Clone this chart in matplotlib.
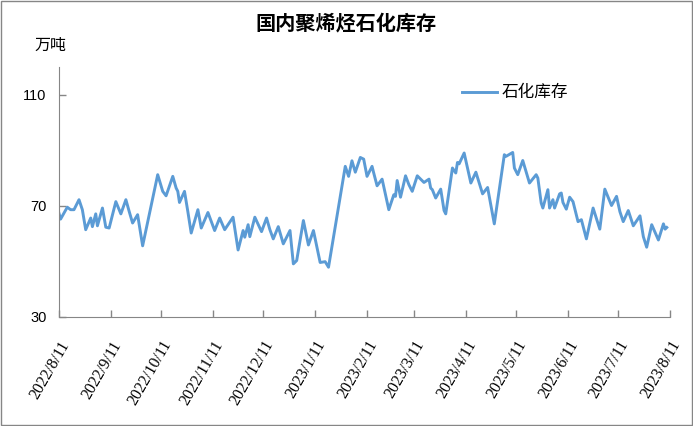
import numpy as np
import pandas as pd
import matplotlib
matplotlib.use("Agg")
import matplotlib.pyplot as plt
import matplotlib.dates as mdates
from matplotlib.patches import Rectangle
from matplotlib.transforms import ScaledTranslation

plt.rcParams['font.family'] = ['Noto Sans CJK SC', 'DejaVu Sans']

# values (万吨)
dates = [
    "2022-08-11", "2022-08-12", "2022-08-16", "2022-08-18", "2022-08-20", "2022-08-23",
    "2022-08-25", "2022-08-27", "2022-08-30", "2022-08-31", "2022-09-02", "2022-09-03",
    "2022-09-06", "2022-09-08", "2022-09-10", "2022-09-14", "2022-09-17", "2022-09-20",
    "2022-09-22", "2022-09-24", "2022-09-27", "2022-09-30", "2022-10-09", "2022-10-12",
    "2022-10-14", "2022-10-18", "2022-10-20", "2022-10-21", "2022-10-22", "2022-10-25",
    "2022-10-27", "2022-10-29", "2022-11-02", "2022-11-04", "2022-11-08", "2022-11-12",
    "2022-11-15", "2022-11-18", "2022-11-23", "2022-11-26", "2022-11-29", "2022-11-30",
    "2022-12-02", "2022-12-03", "2022-12-06", "2022-12-10", "2022-12-13", "2022-12-15",
    "2022-12-17", "2022-12-20", "2022-12-23", "2022-12-27", "2022-12-29", "2022-12-31",
    "2023-01-04", "2023-01-07", "2023-01-10", "2023-01-14", "2023-01-17", "2023-01-19",
    "2023-01-29", "2023-01-31", "2023-02-02", "2023-02-04", "2023-02-07", "2023-02-09",
    "2023-02-11", "2023-02-14", "2023-02-15", "2023-02-17", "2023-02-20", "2023-02-24",
    "2023-02-27", "2023-02-28", "2023-03-01", "2023-03-03", "2023-03-06", "2023-03-08",
    "2023-03-10", "2023-03-13", "2023-03-17", "2023-03-20", "2023-03-21", "2023-03-22",
    "2023-03-24", "2023-03-27", "2023-03-29", "2023-03-30", "2023-04-03", "2023-04-05",
    "2023-04-06", "2023-04-07", "2023-04-10", "2023-04-14", "2023-04-17", "2023-04-19",
    "2023-04-21", "2023-04-24", "2023-04-28", "2023-05-04", "2023-05-05", "2023-05-09",
    "2023-05-10", "2023-05-12", "2023-05-15", "2023-05-19", "2023-05-23", "2023-05-24",
    "2023-05-26", "2023-05-27", "2023-05-30", "2023-05-31", "2023-06-02", "2023-06-03",
    "2023-06-06", "2023-06-07", "2023-06-08", "2023-06-10", "2023-06-12", "2023-06-14",
    "2023-06-17", "2023-06-19", "2023-06-22", "2023-06-26", "2023-06-30", "2023-07-03",
    "2023-07-06", "2023-07-07", "2023-07-10", "2023-07-12", "2023-07-14", "2023-07-17",
    "2023-07-20", "2023-07-24", "2023-07-26", "2023-07-28", "2023-07-31", "2023-08-04",
    "2023-08-07", "2023-08-08", "2023-08-09",
]
stock = [
    67.4, 65.2, 69.5, 68.6, 68.6, 72.2,
    68.6, 61.4, 65.6, 62.5, 67.1, 62.8,
    69.2, 62.3, 62.0, 71.5, 67.1, 72.2,
    67.9, 63.8, 66.8, 55.6, 81.2, 75.2,
    73.6, 80.6, 76.4, 75.2, 71.2, 75.2,
    67.9, 60.2, 68.6, 62.0, 67.6, 61.1,
    65.6, 61.4, 65.9, 54.1, 61.1, 58.7,
    63.2, 58.9, 65.9, 60.7, 65.6, 61.4,
    58.1, 62.5, 56.3, 61.1, 49.1, 50.3,
    64.7, 55.9, 61.1, 49.6, 49.9, 47.9,
    84.2, 80.6, 86.2, 82.1, 87.4, 86.8,
    80.6, 84.2, 81.8, 77.2, 79.6, 68.6,
    74.0, 73.4, 79.1, 73.1, 80.8, 77.6,
    75.2, 80.8, 78.4, 79.6, 76.4, 75.8,
    72.8, 76.0, 68.3, 67.1, 83.6, 81.8,
    85.6, 85.1, 89.0, 78.2, 82.1, 78.2,
    74.3, 76.6, 63.5, 88.4, 87.8, 89.2,
    83.6, 81.2, 86.3, 78.2, 81.2, 80.0,
    71.0, 69.2, 75.8, 69.2, 72.2, 69.2,
    74.3, 74.6, 71.2, 68.8, 73.1, 71.5,
    64.3, 65.0, 58.1, 69.2, 61.6, 76.0,
    71.5, 70.1, 73.4, 67.9, 64.3, 68.3,
    62.8, 66.4, 58.9, 55.1, 63.2, 57.7,
    63.5, 61.6, 62.2,
]
tick_dates = pd.date_range("2022-08-01", "2023-08-01", freq="MS") + pd.Timedelta(days=10)
y_ticks = [30, 70, 110]

x = pd.to_datetime(dates)

fig = plt.figure(figsize=(6.93, 4.26), dpi=100)
ax = fig.add_axes([0.085, 0.256, 0.882, 0.587])

ax.plot(x, stock, color='#5B9BD5', linewidth=2.1, label='石化库存')

ax.set_xlim(pd.Timestamp("2022-08-11"), pd.Timestamp("2023-08-11"))
ax.set_ylim(30, 120)
ax.set_yticks(y_ticks)
ax.set_yticklabels([str(v) for v in y_ticks], family='Liberation Sans', fontsize=10.5)
ax.set_xticks(tick_dates)
ax.set_xticklabels([f"{d.year}/{d.month}/{d.day}" for d in tick_dates],
                   family='Liberation Serif', fontsize=11.5,
                   rotation=60, ha='right', va='top', rotation_mode='anchor')
offset = ScaledTranslation(10 / 72, 0, fig.dpi_scale_trans)
for lab in ax.get_xticklabels():
    lab.set_transform(lab.get_transform() + offset)

for side in ['top', 'right']:
    ax.spines[side].set_visible(False)
for side in ['left', 'bottom']:
    ax.spines[side].set_color('#868686')
ax.tick_params(axis='both', direction='in', length=5, color='#868686', width=1)
ax.tick_params(axis='x', pad=15)
ax.tick_params(axis='y', pad=9)

fig.text(0.5, 0.945, '国内聚烯烃石化库存', ha='center', va='center',
         fontsize=14.5, fontweight='bold')
fig.text(0.073, 0.894, '万吨', ha='center', va='center', fontsize=11.5)

ax.legend(loc='center left', bbox_to_anchor=(0.659, 0.896), frameon=False,
          fontsize=12, handlelength=2.1, handletextpad=0.3,
          borderpad=0, borderaxespad=0)

fig.patches.append(Rectangle((0.002, 0.003), 0.996, 0.994, transform=fig.transFigure,
                             fill=False, edgecolor='#868686', linewidth=1))

fig.savefig('out.png', dpi=100)
